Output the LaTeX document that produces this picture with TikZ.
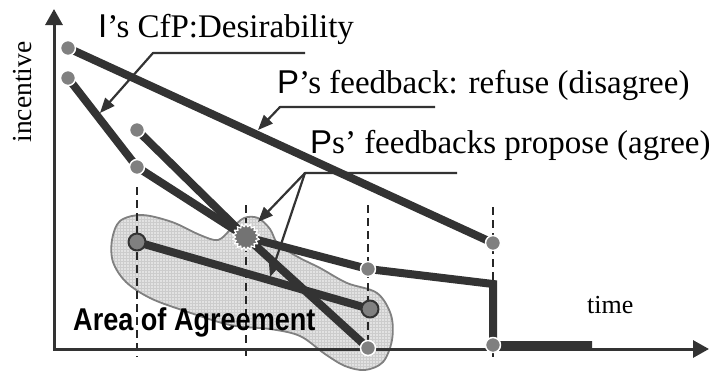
\documentclass[tikz,border=0pt]{standalone}
\usepackage{fontspec}
\setmainfont{Liberation Serif}
\setsansfont{Liberation Sans}
\newfontfamily\areafont[FakeStretch=0.86]{Liberation Sans}
\usetikzlibrary{arrows.meta,shapes.geometric,patterns}
\definecolor{darkline}{HTML}{333333}
\definecolor{dotfill}{HTML}{808080}
\definecolor{areafill}{HTML}{E2E2E2}

\begin{document}
\begin{tikzpicture}[line join=round, x=1pt, y=-1pt]
    \tikzset{
        offer/.style={draw=darkline, line width=8pt, line join=miter},
        axis line/.style={draw=darkline, line width=3pt, line cap=rect, -{Triangle[length=16pt, width=17pt]}},
        stage/.style={draw=black!85, line width=2.2pt, dash pattern=on 8pt off 5pt},
        pointer/.style={draw=darkline, line width=2.2pt, -{Triangle[length=15pt, width=12pt]}},
        offer dot/.style={circle, fill=dotfill, draw=white, line width=1.5pt, minimum size=15pt, inner sep=0pt},
        final dot/.style={circle, fill=dotfill, draw=darkline, line width=2pt, minimum size=17pt, inner sep=0pt},
        deal/.style={star, star points=18, star point ratio=1.3, minimum size=27pt, inner sep=0pt, fill=dotfill!90!black, draw=white, line width=1.2pt},
        remark/.style={font=\fontsize{33}{36}\selectfont, inner sep=0pt, anchor=base west}
    }
    \useasboundingbox (0,0) rectangle (712,372);

    % offers and counter-offers
    \coordinate (i1) at (68,48);
    \coordinate (r1) at (493,243);
    \coordinate (i2) at (68,78);
    \coordinate (p1) at (137,130);
    \coordinate (p2) at (137,167);
    \coordinate (ag) at (246,237);
    \coordinate (c1) at (137,242);
    \coordinate (c2) at (370,309);
    \coordinate (e1) at (368,269);
    \coordinate (e2) at (368,348);
    \coordinate (k) at (493,284);
    \coordinate (h) at (493,345);
    \coordinate (t) at (592,345);

    % area of agreement
    \path[preaction={fill=areafill}, pattern=grid, pattern color=gray!40, draw=dotfill, line width=1.8pt]
        plot[smooth cycle, tension=0.55] coordinates {(112,240) (120,221) (142,215) (172,222) (200,235)
        (218,240) (231,229) (244,218) (258,218) (270,229) (278,244) (298,257) (320,268) (347,283)
        (377,293) (391,315) (392,340) (383,362) (365,370) (345,366) (325,354) (300,336) (270,329)
        (230,325) (182,310) (150,298) (126,282) (113,262)};

    \foreach \x/\y in {137/187, 246/205, 368/205, 493/207}{
    \draw[stage] (\x,\y) -- (\x,357);
    }

    % axes
    \coordinate (o) at (54,349);
    \coordinate (ytip) at (54,9);
    \coordinate (xtip) at (709,349);
    \draw[axis line] (o) -- (ytip);
    \draw[axis line] (o) -- (xtip);
    \node[rotate=90, font=\fontsize{27.5}{30}\selectfont, inner sep=0pt, anchor=base] (incentive) at (31,92) {incentive};
    \node[font=\fontsize{26}{28}\selectfont, inner sep=0pt, anchor=base west] (time) at (587,313) {time};

    \draw[offer] (i1) -- (r1);
    \draw[offer] (i2) -- (p2) -- (ag);
    \draw[offer] (p1) -- (ag);
    \draw[offer] (c1) -- (c2);
    \draw[offer] (ag) -- (e2);
    \draw[offer] (ag) -- (e1) -- (k) -- (h) -- (t);

    \foreach \n in {i1,i2,p1,p2,r1,e1,e2,h}{
    \node[offer dot] (\n-dot) at (\n) {};
    }
    \node[final dot] (c1-dot) at (c1) {};
    \node[final dot] (c2-dot) at (c2) {};
    \node[deal] (deal) at (ag) {};

    % call-outs
    \node[remark] (cfp) at (98,37) {{\sffamily I}’s CfP:Desirability};
    \coordinate (cfp-end) at (305,53);
    \coordinate (cfp-bend) at (153,53);
    \coordinate (cfp-tip) at (100,113);
    \draw[pointer] (cfp-end) -- (cfp-bend) -- (cfp-tip);

    \node[remark] (refuse) at (277,93) {{\sffamily P}’s feedback: refuse (disagree)};
    \coordinate (refuse-end) at (435,107);
    \coordinate (refuse-bend) at (280,107);
    \coordinate (refuse-tip) at (258,130);
    \draw[pointer] (refuse-end) -- (refuse-bend) -- (refuse-tip);

    \node[remark] (propose) at (310,153) {{\sffamily P}s’ feedbacks propose (agree)};
    \coordinate (propose-end) at (457,173);
    \coordinate (propose-bend) at (305,173);
    \coordinate (propose-tip) at (258,222);
    \coordinate (propose-low) at (270,277);
    \draw[pointer] (propose-end) -- (propose-bend) -- (propose-tip);
    \draw[pointer] (propose-bend) -- (propose-low);

    \node[font=\areafont\bfseries\fontsize{31.5}{34}\selectfont, inner sep=0pt, anchor=base west] (area) at (73,330) {Area of Agreement};
\end{tikzpicture}
\end{document}
